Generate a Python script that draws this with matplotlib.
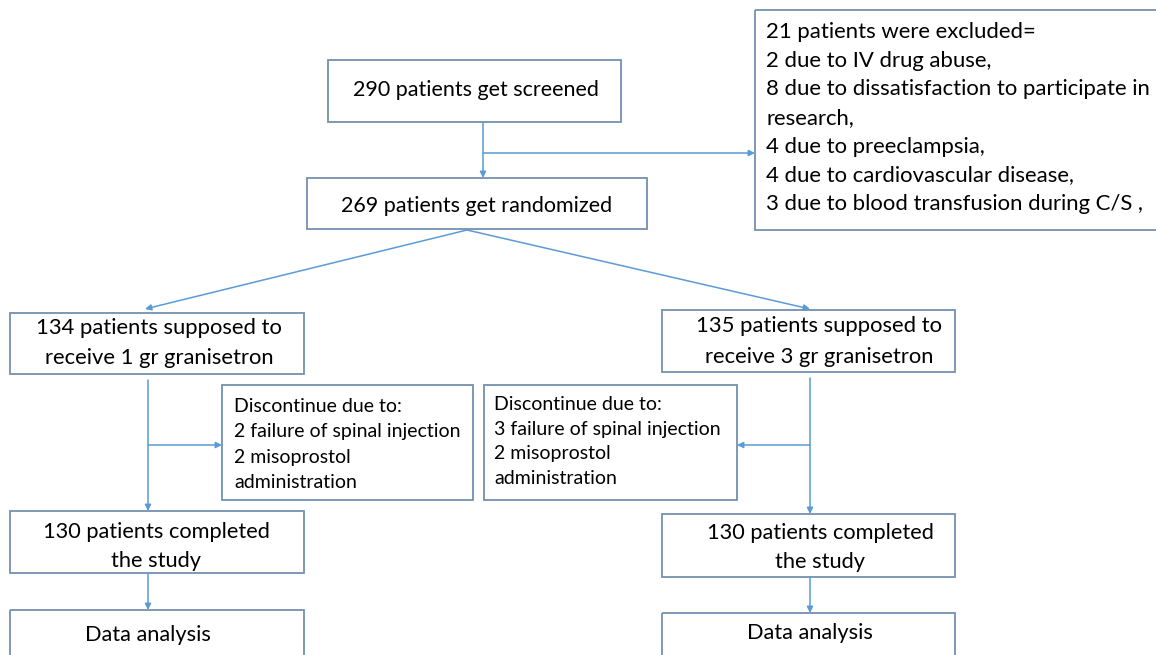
import matplotlib.pyplot as plt
from matplotlib.patches import Rectangle

# flowchart texts
screened = "290 patients get screened"
randomized = "269 patients get randomized"
excluded = ["21 patients were excluded=",
            "2 due to IV drug abuse,",
            "8 due to dissatisfaction to participate in",
            "research,",
            "4 due to preeclampsia,",
            "4 due to cardiovascular disease,",
            "3 due to blood transfusion during C/S ,"]
group_left = ["134 patients supposed to", "receive 1 gr granisetron"]
group_right = ["135 patients supposed to", "receive 3 gr granisetron"]
disc_left = ["Discontinue due to:", "2 failure of spinal injection",
             "2 misoprostol", "administration"]
disc_right = ["Discontinue due to:", "3 failure of spinal injection",
              "2 misoprostol", "administration"]
completed = ["130 patients completed", "the study"]
analysis = "Data analysis"

EDGE = '#7490b0'
ARROW = '#5b9bd5'
FONT = ['Lato', 'DejaVu Sans']

fig = plt.figure(figsize=(11.56, 6.55), dpi=100)
ax = fig.add_axes([0, 0, 1, 1])
ax.set_xlim(0, 1156)
ax.set_ylim(655, 0)
ax.axis('off')


def box(x0, y0, x1, y1):
    ax.add_patch(Rectangle((x0, y0), x1 - x0, y1 - y0, fill=False,
                           edgecolor=EDGE, linewidth=1.3))


def arrow(x0, y0, x1, y1):
    ax.annotate('', xy=(x1, y1), xytext=(x0, y0),
                arrowprops=dict(arrowstyle='-|>', color=ARROW, lw=1.1,
                                mutation_scale=9, shrinkA=0, shrinkB=0))


def lines_text(x, ys, txt, ha='center', fs=15):
    for y, t in zip(ys, txt):
        ax.text(x, y, t, ha=ha, va='center', fontsize=fs, family=FONT,
                color='#000000')


# boxes
box(328, 60, 621, 122)
box(307, 178, 647, 229)
box(755, 10, 1160, 230)
box(10, 313, 304, 374)
box(662, 310, 955, 372)
box(222, 385, 473, 500)
box(484, 385, 737, 500)
box(10, 511, 304, 573)
box(662, 514, 955, 577)
box(10, 610, 304, 670)
box(662, 613, 955, 670)

# texts
lines_text(476, [90], [screened], fs=15.5)
lines_text(477, [206], [randomized], fs=15.5)
lines_text(766, [32, 61, 89, 118, 147, 175, 204], excluded, ha='left', fs=15.9)
lines_text(159, [328, 358], group_left, fs=15.8)
lines_text(819, [326, 357], group_right, fs=15.8)
lines_text(234, [406, 432, 457, 482], disc_left, ha='left', fs=14)
lines_text(494, [404, 429, 453, 478], disc_right, ha='left', fs=14)
lines_text(156, [532, 561], completed, fs=15.7)
lines_text(820, [533, 562], completed, fs=15.7)
lines_text(148, [635], [analysis], fs=15.7)
lines_text(810, [633], [analysis], fs=15.7)

# connectors
arrow(483, 123, 483, 178)
arrow(483, 153, 755, 153)
arrow(467, 230, 145, 309)
arrow(467, 230, 810, 309)
arrow(148, 380, 148, 511)
arrow(148, 445, 222, 445)
arrow(810, 378, 810, 514)
arrow(810, 445, 737, 445)
arrow(148, 573, 148, 610)
arrow(810, 577, 810, 613)

fig.savefig('out.png', dpi=100, facecolor='white')
